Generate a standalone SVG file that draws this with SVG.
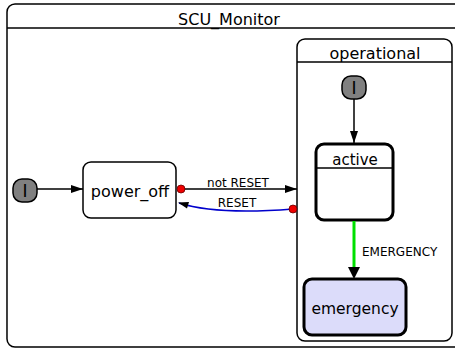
<svg xmlns="http://www.w3.org/2000/svg" width="455" height="352" viewBox="0 0 455 352">
<defs>
<marker id="arr" viewBox="0 0 12 8" refX="12" refY="4" markerWidth="12" markerHeight="8" markerUnits="userSpaceOnUse" orient="auto">
<path d="M0,0 L12,4 L0,8 z" fill="#000"/>
</marker>
<style>
text{font-family:"DejaVu Sans","Liberation Sans",sans-serif;fill:#000}
.box{fill:#fff;stroke:#000;stroke-width:1.5}
.thick{fill:#fff;stroke:#000;stroke-width:3}
.init{fill:#808080;stroke:#000;stroke-width:1.5}
.edge{fill:none;stroke:#000;stroke-width:1.5;marker-end:url(#arr)}
.dot{fill:#e00;stroke:#600;stroke-width:0.8}
.lbl{font-size:12px}
.ini{font-size:17px}
</style>
</defs>
<rect width="455" height="352" fill="#fff"/>
<g id="SCU_Monitor">
<rect class="box" x="7" y="4" width="460" height="343" rx="8"/>
<line x1="7" y1="28" x2="455" y2="28" stroke="#000" stroke-width="1.5"/>
<text x="229" y="25" font-size="16" text-anchor="middle">SCU_Monitor</text>
</g>
<g id="operational">
<rect class="box" x="297" y="39" width="155" height="302" rx="8"/>
<line x1="297" y1="62" x2="452" y2="62" stroke="#000" stroke-width="1.5"/>
<text x="375" y="59" font-size="16" text-anchor="middle">operational</text>
</g>
<g id="init_outer">
<rect class="init" x="13" y="179" width="24" height="23" rx="9"/>
<text class="ini" x="25" y="197" text-anchor="middle">I</text>
</g>
<g id="init_operational">
<rect class="init" x="342" y="76" width="24" height="23" rx="9"/>
<text class="ini" x="354" y="94" text-anchor="middle">I</text>
</g>
<g id="power_off">
<rect class="box" x="83" y="162" width="93" height="56" rx="8"/>
<text x="130" y="197" font-size="16" text-anchor="middle">power_off</text>
</g>
<g id="active">
<rect class="thick" x="316" y="144" width="77" height="76" rx="8"/>
<line x1="316" y1="168" x2="393" y2="168" stroke="#000" stroke-width="1.5"/>
<text x="355" y="165" font-size="15" text-anchor="middle">active</text>
</g>
<g id="emergency">
<rect x="304" y="279" width="102" height="56" rx="8" fill="#dcdcfa" stroke="#000" stroke-width="3"/>
<text x="355" y="314" font-size="15.5" text-anchor="middle">emergency</text>
</g>
<g id="connectors">
<line class="edge" x1="37" y1="189" x2="83" y2="189"/>
<line class="edge" x1="181" y1="189" x2="297" y2="189"/>
<path d="M293,209 C255,212 210,213 179,203" fill="none" stroke="#0000cc" stroke-width="1.5"/>
<path d="M178,202.5 L189,202 L187,208.5 z" fill="#000"/>
<line class="edge" x1="354" y1="99" x2="354" y2="143"/>
<line x1="354" y1="221" x2="354" y2="268" stroke="#00e000" stroke-width="3"/>
<path d="M348,267 L354,279 L360,267 z" fill="#000"/>
<circle class="dot" cx="181" cy="189" r="4"/>
<circle class="dot" cx="293" cy="209" r="4"/>
<text class="lbl" x="238" y="187" text-anchor="middle">not RESET</text>
<text class="lbl" x="237" y="207" text-anchor="middle">RESET</text>
<text class="lbl" x="362" y="256">EMERGENCY</text>
</g>
</svg>
